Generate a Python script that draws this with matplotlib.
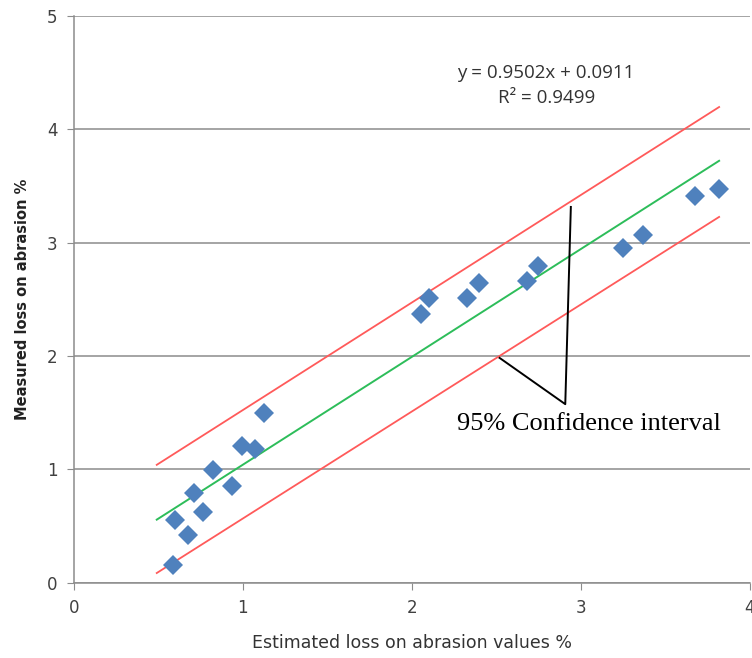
import numpy as np
import matplotlib.pyplot as plt

# measured vs estimated loss on abrasion (%)
estimated = [0.588, 0.598, 0.673, 0.713, 0.766, 0.825, 0.934, 0.997, 1.072, 1.127,
             2.054, 2.105, 2.330, 2.401, 2.682, 2.745, 3.250, 3.367, 3.679, 3.821]
measured = [0.153, 0.552, 0.420, 0.793, 0.622, 0.998, 0.857, 1.204, 1.180, 1.498,
            2.374, 2.507, 2.512, 2.639, 2.660, 2.790, 2.953, 3.064, 3.408, 3.476]

# trendline and 95% confidence band
slope = 0.9502
intercept = 0.0911
line_x = [0.49, 3.82]
upper_y = [1.04, 4.195]
lower_y = [0.086, 3.226]

fig = plt.figure(figsize=(7.52, 6.58), dpi=100)
ax = fig.add_axes([0.0984, 0.1143, 0.8983, 0.8618])

ax.set_xlim(0, 4)
ax.set_ylim(0, 5)
ax.set_xticks([0, 1, 2, 3, 4])
ax.set_yticks([0, 1, 2, 3, 4, 5])
ax.grid(axis='y', color='#8c8c8c', linewidth=1.1)
ax.set_axisbelow(True)
for s in ['top', 'right']:
    ax.spines[s].set_visible(False)
for s in ['left', 'bottom']:
    ax.spines[s].set_color('#8c8c8c')
    ax.spines[s].set_linewidth(1.1)
ax.tick_params(direction='out', length=5, color='#8c8c8c', labelsize=12,
               labelcolor='#404040', pad=7)

fit_x = np.array(line_x)
ax.plot(fit_x, slope * fit_x + intercept, color='#2dbd5a', lw=1.4, zorder=3)
ax.plot(line_x, upper_y, color='#ff5a5a', lw=1.3, zorder=3)
ax.plot(line_x, lower_y, color='#ff5a5a', lw=1.3, zorder=3)

ax.plot(estimated, measured, 'D', color='#4f81bd', markersize=10.5,
        markeredgewidth=0, zorder=4)

ax.text(2.795, 4.45, 'y = 0.9502x + 0.0911', ha='center', va='baseline',
        fontsize=13.5, color='#333333', family='Open Sans')
ax.text(2.80, 4.23, 'R² = 0.9499', ha='center', va='baseline',
        fontsize=13.5, color='#333333', family='Open Sans')

# confidence interval callout
ax.plot([2.942, 2.909, 2.52], [3.314, 1.575, 1.983], color='black', lw=1.4,
        zorder=5)
ax.text(3.052, 1.346, '95% Confidence interval', ha='center', va='baseline',
        fontsize=19, family='Liberation Serif', color='black')

ax.set_xlabel('Estimated loss on abrasion values %', fontsize=12.5,
              color='#333333', labelpad=12)
ax.set_ylabel('Measured loss on abrasion %', fontsize=10.5, fontweight='bold',
              color='#222222', labelpad=12)

fig.savefig('out.png', dpi=100)
